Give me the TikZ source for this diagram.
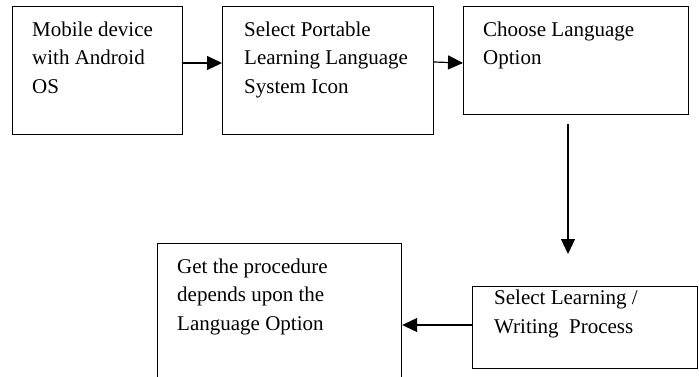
\documentclass[tikz,border=0pt]{standalone}
\usepackage{fontspec}
\setmainfont{Liberation Serif}
\usetikzlibrary{arrows.meta}
\begin{document}
\begin{tikzpicture}[x=1pt,y=-1pt,
  box/.style={draw,line width=1.2pt,inner sep=0pt,anchor=north west},
  txt/.style={anchor=base west,align=left,inner sep=0pt,font=\fontsize{21}{28.5}\selectfont},
  arr/.style={line width=1.2pt,-{Triangle[length=15pt,width=14pt]}}]
\useasboundingbox (0,0) rectangle (699,376);
\clip (0,0) rectangle (699,376);
\node[box,minimum width=170pt,minimum height=128pt] (b1) at (12,6) {};
\node[box,minimum width=211pt,minimum height=128pt] (b2) at (222,6) {};
\node[box,minimum width=225pt,minimum height=108pt] (b3) at (463,6) {};
\node[box,minimum width=244pt,minimum height=140pt] (b4) at (157,243) {};
\node[box,minimum width=225pt,minimum height=82pt] (b5) at (472,286) {};
\node[txt] (t1) at (32,93) {Mobile device\\with Android\\OS};
\node[txt] (t2) at (244,93) {Select Portable\\Learning Language\\System Icon};
\node[txt] (t3) at (483,64.5) {Choose Language\\Option};
\node[txt] (t4) at (177,330) {Get the procedure\\depends upon the\\Language Option};
\node[txt] (t5) at (494,333) {Select Learning /\\Writing~~Process};
\coordinate (d1) at (568,124);
\coordinate (d2) at (568,254);
\draw[arr] (b1.east |- 0,63) -- (b2.west |- 0,63);
\draw[arr] (b2.east |- 0,62) -- (b3.west |- 0,63);
\draw[arr] (d1) -- (d2);
\draw[arr] (b5.west |- 0,325) -- (b4.east |- 0,325);
\end{tikzpicture}
\end{document}
